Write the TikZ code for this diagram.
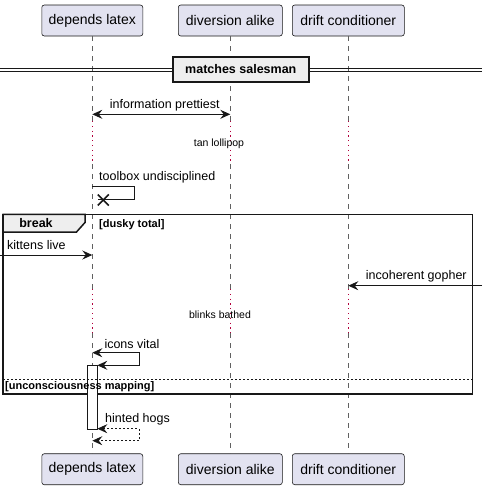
\documentclass[tikz,border=0pt]{standalone}
\usepackage{fontspec}
\setmainfont{Liberation Sans}
\usetikzlibrary{arrows.meta}
\definecolor{pfill}{HTML}{E2E2F0}
\definecolor{ink}{HTML}{181818}
\definecolor{delayc}{HTML}{B3003C}
\definecolor{grpfill}{HTML}{EEEEEE}
\begin{document}
\begin{tikzpicture}[x=1pt,y=-1pt,
  part/.style={draw=ink,fill=pfill,rounded corners=2.5pt,line width=0.6pt,minimum height=31pt,inner sep=0pt,font=\fontsize{14}{16}\selectfont},
  life/.style={draw=gray!75!black,line width=0.6pt,dash pattern=on 5pt off 5pt},
  delayline/.style={draw=delayc,line width=1pt,dash pattern=on 1.2pt off 3.6pt},
  msg/.style={draw=ink,line width=0.9pt},
  tip/.style={-{Stealth[length=10pt,width=9pt,inset=3.5pt]}},
  bitip/.style={{Stealth[length=10pt,width=9pt,inset=3.5pt]}-{Stealth[length=10pt,width=9pt,inset=3.5pt]}},
  lbl/.style={inner sep=0pt,font=\fontsize{12.5}{14}\selectfont},
  dlbl/.style={inner sep=0pt,font=\fontsize{10.5}{12}\selectfont},
  glbl/.style={inner sep=0pt,font=\bfseries\fontsize{11}{13}\selectfont},
]
\useasboundingbox (0,0) rectangle (488,490);

% participants
\node[part,minimum width=101pt] (a) at (92.3,20.5) {depends latex};
\node[part,minimum width=104pt] (b) at (230.3,20.5) {diversion alike};
\node[part,minimum width=112pt] (c) at (348.3,20.5) {drift conditioner};
\node[part,minimum width=101pt] (ab) at (92.3,469.2) {depends latex};
\node[part,minimum width=104pt] (bb) at (230.3,469.2) {diversion alike};
\node[part,minimum width=112pt] (cb) at (348.3,469.2) {drift conditioner};

% lifelines
\foreach \p/\x in {a/92.3,b/230.3,c/348.3}{
  \coordinate (\p d1) at (\x,121);
  \coordinate (\p d2) at (\x,164);
  \coordinate (\p d3) at (\x,289);
  \coordinate (\p d4) at (\x,333);
  \draw[life] (\p.south) -- (\p d1);
  \draw[delayline] (\p d1) -- (\p d2);
  \draw[life] (\p d2) -- (\p d3);
  \draw[delayline] (\p d3) -- (\p d4);
  \draw[life] (\p d4) -- (\p b.north);
}

% divider
\coordinate (dl) at (0,70);
\coordinate (dr) at (482,70);
\draw[ink,line width=0.8pt] ([yshift=-1.6pt]dl) -- ([yshift=-1.6pt]dr);
\draw[ink,line width=0.8pt] ([yshift=1.6pt]dl) -- ([yshift=1.6pt]dr);
\node[draw=ink,fill=grpfill,line width=1.6pt,minimum width=136pt,minimum height=25pt,inner sep=0pt,font=\bfseries\fontsize{12.5}{14}\selectfont] (div) at (240.8,69.2) {matches salesman};

% information prettiest
\coordinate (m1a) at (92.3,114.3);
\coordinate (m1b) at (230.3,114.3);
\draw[msg,bitip] (m1a) -- (m1b);
\node[lbl,anchor=west] (m1t) at (109.7,105) {information prettiest};

% delay 1
\node[dlbl] (dly1) at (219,144) {tan lollipop};

% toolbox undisciplined
\node[lbl,anchor=west] (m2t) at (99,177.3) {toolbox undisciplined};
\coordinate (s1) at (92.3,186.7);
\coordinate (s2) at (134.3,186.7);
\coordinate (s3) at (134.3,199.3);
\coordinate (s4) at (97.5,199.3);
\coordinate (xm) at (103.3,200);
\draw[msg] (s1) -- (s2) -- (s3) -- (s4);
\draw[ink,line width=1.6pt] ([shift={(-5.5,-5.5)}]xm) -- ([shift={(5.5,5.5)}]xm);
\draw[ink,line width=1.6pt] ([shift={(-5.5,5.5)}]xm) -- ([shift={(5.5,-5.5)}]xm);

% break group
\coordinate (g1) at (3,214.3);
\coordinate (g2) at (472.7,394);
\draw[ink,line width=1.5pt] (g1) rectangle (g2);
\draw[ink,fill=grpfill,line width=1.5pt] (g1) -- (85,214.3) -- (85,222.5) -- (76.5,232) -- (3,232) -- cycle;
\node[inner sep=0pt,font=\bfseries\fontsize{12.5}{14}\selectfont] (brk) at (36,223.5) {break};
\node[glbl,anchor=west] (g1t) at (99,224.5) {[dusky total]};

% kittens live
\coordinate (k0) at (0,255);
\coordinate (k1) at (92.3,255);
\draw[msg,tip] (k0) -- (k1);
\node[lbl,anchor=west] (kt) at (7,245.5) {kittens live};

% incoherent gopher
\coordinate (i0) at (482,285.7);
\coordinate (i1) at (348.3,285.7);
\draw[msg,tip] (i0) -- (i1);
\node[lbl,anchor=west] (it) at (365.7,276) {incoherent gopher};

% delay 2
\node[dlbl] (dly2) at (220,315) {blinks bathed};

% activation
\node[draw=ink,fill=white,line width=0.9pt,minimum width=10pt,minimum height=64pt,inner sep=0pt] (act) at (92.3,397.3) {};

% icons vital
\node[lbl,anchor=west] (ivt) at (104.3,343.7) {icons vital};
\coordinate (v1) at (92.3,352.7);
\coordinate (v2) at (139.3,352.7);
\coordinate (v3) at (139.3,365.3);
\coordinate (v4) at (97.3,365.3);
\draw[msg,bitip] (v1) -- (v2) -- (v3) -- (v4);

% else separator
\coordinate (e1) at (3,379.3);
\coordinate (e2) at (472.7,379.3);
\draw[ink,line width=0.6pt,dash pattern=on 2pt off 2pt] (e1) -- (e2);
\node[glbl,anchor=west] (et) at (5,386.7) {[unconsciousness mapping]};

% hinted hogs
\node[lbl,anchor=west] (ht) at (105,419.3) {hinted hogs};
\coordinate (h1) at (97.3,428.7);
\coordinate (h2) at (139.3,428.7);
\coordinate (h3) at (139.3,440.7);
\coordinate (h4) at (92.3,440.7);
\draw[msg,bitip,dash pattern=on 2pt off 2pt] (h1) -- (h2) -- (h3) -- (h4);
\end{tikzpicture}
\end{document}
